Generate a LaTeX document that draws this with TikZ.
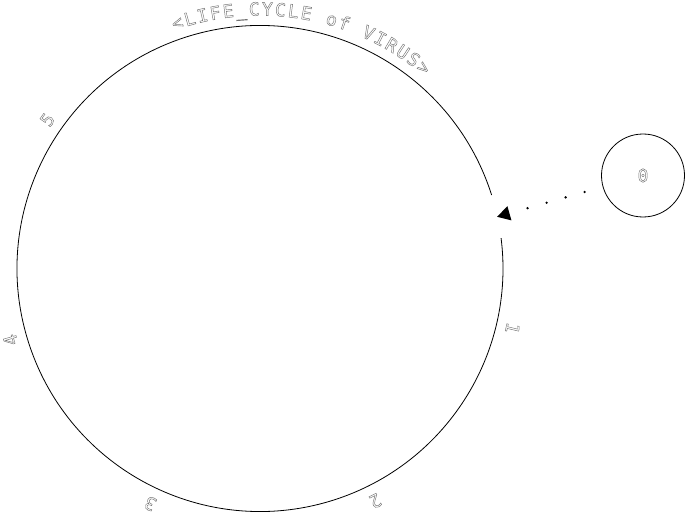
\documentclass[tikz,border=0pt]{standalone}
\usepackage{fontspec}
\usepackage{tikz}
\usetikzlibrary{calc,arrows.meta,positioning}
\newfontfamily\cyclefont{DejaVu Sans Mono}
% hollow (outlined) glyphs
\newcommand{\hollow}[1]{\special{pdf:literal direct 1 Tr 0.45 w}#1\special{pdf:literal direct 0 Tr}}

\begin{document}
\begin{tikzpicture}[
    x=1pt, y=1pt,
    every node/.style={font=\cyclefont\fontsize{18}{20}\selectfont, text=black!55},
    ring/.style={line width=0.8pt, black},
    tag/.style={inner sep=0pt, text height=13pt, text depth=3pt, rotate=#1-90},
    arr/.style={-{Triangle[length=13pt, width=14pt]}, line width=2.6pt, line cap=round,
                dash pattern=on 0pt off 19.8pt, dash phase=1.1pt, black},
  ]
    \useasboundingbox (0,0) rectangle (686,-516);
    \coordinate (hub) at (260,-268.5);

    % life cycle ring with an opening for the entry
    \draw[ring] ([shift={(hub)}]17.6:243) arc[start angle=17.6, end angle=367.2, radius=243];
    \coordinate (entry) at ([shift={(hub)}]12.3:242.5);

    % the virus
    \node[circle, draw=black, line width=0.8pt, minimum size=83pt, inner sep=0pt] (virus) at (643,-175.5) {\hollow{0}};

    % stage numbers round the ring
    \foreach \lab/\ang in {1/-13.3, 2/-63.6, 3/-115, 4/196, 5/145}
      \node[tag=\ang] (stage\lab) at ([shift={(hub)}]\ang:258) {\hollow{\lab}};

    % title along the top of the ring
    \foreach \ch [count=\i, evaluate=\i as \ang using 108.6-(\i-1)*2.89] in {<,L,I,F,E,\_,C,Y,C,L,E,{},o,f,{},V,I,R,U,S,>}
      \node[tag=\ang] (title\i) at ([shift={(hub)}]\ang:258) {\hollow{\ch}};

    % entry of the virus
    \draw[arr] (virus) -- (entry);
\end{tikzpicture}
\end{document}
